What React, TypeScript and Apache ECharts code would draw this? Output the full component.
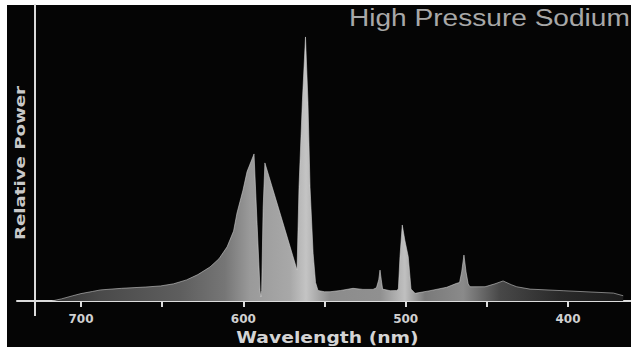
import React, { useEffect, useRef } from "react";
import * as echarts from "echarts";

// Wavelength (nm) and relative power
const wavelengths = [718, 712, 705, 700, 693, 688, 675, 660, 651, 643, 635, 628, 620.5, 615, 610, 606, 603.9, 600.2, 597.7, 593.4, 591.5, 589.7, 589.2, 588.7, 587.8, 586.7, 580, 573, 566.9, 565.7, 563.6, 561.7, 560.2, 558.9, 557, 555.5, 554, 550, 546.6, 540, 532.4, 526.3, 520.1, 518, 516.6, 515.8, 515, 514.2, 509.6, 505.5, 504.5, 503.5, 502.1, 500.5, 498.4, 496.7, 494.2, 485, 474.7, 468.6, 466.8, 465.5, 464.1, 462.8, 461.5, 460.4, 451.1, 445, 440, 435, 431.6, 423.4, 403, 372, 366];
const power = [0, 0.8, 2.0, 2.8, 3.6, 4.2, 4.8, 5.3, 5.7, 6.5, 8.0, 10.0, 12.9, 16.0, 20.5, 26.5, 33.3, 42, 49, 55.7, 29, 4, 1.5, 4, 35, 52.3, 38.6, 24.3, 11.7, 43, 76, 100, 76, 43, 18, 7, 4, 3.5, 3.5, 4.0, 4.8, 4.4, 4.4, 5, 8, 11.7, 8, 4.5, 3.9, 4, 4.5, 16.8, 28.8, 23, 16.8, 4.5, 2.9, 3.9, 5.2, 6.7, 7, 11, 17.4, 11, 6.5, 5.4, 5.4, 6.5, 7.6, 6.2, 5.4, 4.5, 3.9, 3.0, 2];
const tickValues = [700, 650, 600, 550, 500, 450, 400];
const labelValues = [700, 600, 500, 400];
const titleText = "High Pressure Sodium";
const xName = "Wavelength (nm)";
const yName = "Relative Power";

const fillStops: [number, string][] = [
  [0, "#333333"],
  [0.084, "#4a4a4a"],
  [0.224, "#5e5e5e"],
  [0.303, "#767676"],
  [0.347, "#9a9a9a"],
  [0.417, "#a8a8a8"],
  [0.445, "#c4c4c4"],
  [0.487, "#8c8c8c"],
  [0.575, "#909090"],
  [0.618, "#c0c0c0"],
  [0.653, "#7a7a7a"],
  [0.72, "#8a8a8a"],
  [0.784, "#484848"],
  [0.889, "#2a2a2a"],
  [1, "#1c1c1c"],
];

export default function App() {
  const ref = useRef<HTMLDivElement>(null);
  useEffect(() => {
    if (!ref.current) return;
    const chart = echarts.init(ref.current, undefined, { renderer: "svg" });
    const data = wavelengths.map((w, i) => [w, power[i]]);
    const stops = fillStops.map(([offset, color]) => ({ offset, color }));
    chart.setOption({
      animation: false,
      backgroundColor: "#ffffff",
      grid: { left: 17, right: 0, top: 5, bottom: 50, containLabel: false, outerBoundsMode: "none" },
      xAxis: {
        type: "value",
        min: 361.2,
        max: 739.4,
        inverse: true,
        axisLine: { onZero: false, lineStyle: { color: "#dcdcdc", width: 2 } },
        axisTick: { customValues: tickValues, length: 6, lineStyle: { color: "#dcdcdc", width: 2 } },
        axisLabel: {
          customValues: labelValues,
          color: "#d0d0d0",
          fontFamily: "DejaVu Sans",
          fontWeight: "bold",
          fontSize: 12,
          margin: 12,
        },
        splitLine: { show: false },
      },
      yAxis: {
        type: "value",
        min: 0,
        max: 112.1,
        offset: -18,
        axisLine: { show: true, onZero: false, lineStyle: { color: "#dcdcdc", width: 2 } },
        axisTick: { show: false },
        axisLabel: { show: false },
        splitLine: { show: false },
      },
      graphic: [
        { type: "rect", z: -10, shape: { x: 7, y: 5, width: 624, height: 342 }, style: { fill: "#050505" } },
        { type: "line", shape: { x1: 35, y1: 300, x2: 35, y2: 316 }, style: { stroke: "#dcdcdc", lineWidth: 2 } },
        {
          type: "text",
          x: 349,
          y: 17.7,
          scaleX: 1.17,
          style: {
            text: titleText,
            fill: "#a8a8a8",
            fontFamily: "Liberation Sans",
            fontSize: 24,
            textAlign: "left",
            textVerticalAlign: "middle",
            align: "left",
            verticalAlign: "middle",
          },
        },
        {
          type: "text",
          x: 20,
          y: 163,
          rotation: Math.PI / 2,
          scaleX: 1.3,
          style: {
            text: yName,
            fill: "#c8c8c8",
            fontFamily: "DejaVu Sans",
            fontWeight: "bold",
            fontSize: 14,
            textAlign: "center",
            textVerticalAlign: "middle",
            align: "center",
            verticalAlign: "middle",
          },
        },
        {
          type: "text",
          x: 327.5,
          y: 337.5,
          scaleX: 1.25,
          style: {
            text: xName,
            fill: "#d4d4d4",
            fontFamily: "DejaVu Sans",
            fontWeight: "bold",
            fontSize: 15,
            textAlign: "center",
            textVerticalAlign: "middle",
            align: "center",
            verticalAlign: "middle",
          },
        },
      ],
      series: [
        {
          type: "line",
          data,
          symbol: "none",
          showSymbol: false,
          lineStyle: { width: 1, color: "rgba(215,215,215,0.55)" },
          areaStyle: { color: new echarts.graphic.LinearGradient(0, 0, 1, 0, stops), opacity: 1 },
        },
      ],
    });
    return () => chart.dispose();
  }, []);
  return <div ref={ref} style={{ position: "fixed", left: 0, top: 0, width: 631, height: 351 }} />;
}
